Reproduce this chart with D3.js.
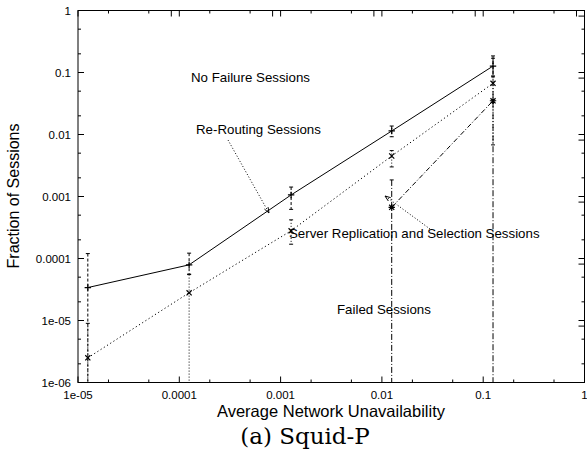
<!DOCTYPE html>
<html>
<head>
<meta charset="utf-8">
<script src="https://cdn.jsdelivr.net/npm/d3@7"></script>
<style>
  body { margin: 0; background: #fff; }
  svg { display: block; }
  text { font-family: 'Liberation Sans', Arial, sans-serif; fill: #000; }
</style>
</head>
<body>
<div id="chart"></div>
<script>
// tick values and labels
const xTicks = [1e-5, 1e-4, 1e-3, 1e-2, 1e-1, 1];
const xTickLabels = ['1e-05', '0.0001', '0.001', '0.01', '0.1', '1'];
const yTicks = [1e-6, 1e-5, 1e-4, 1e-3, 1e-2, 1e-1, 1];
const yTickLabels = ['1e-06', '1e-05', '0.0001', '0.001', '0.01', '0.1', '1'];

// series; null low = error bar runs off the bottom
const xVals = [1.25e-5, 1.25e-4, 1.27e-3, 1.25e-2, 0.125];
const noFailure = [3.4e-5, 7.9e-5, 1.06e-3, 0.0114, 0.127];
const noFailureLo = [null, 5.6e-5, 6.2e-4, 0.0092, 0.085];
const noFailureHi = [1.2e-4, 1.22e-4, 1.42e-3, 0.0137, 0.185];

const reRouting = [2.5e-6, 2.8e-5, 2.8e-4, 0.0045, 0.067];
const reRoutingLo = [null, null, 1.7e-4, 0.003, 0.0068];
const reRoutingHi = [9e-6, 5.5e-5, 4.2e-4, 0.0055, 0.088];

const serverX = [1.25e-2, 0.125];
const serverRepl = [6.7e-4, 0.035];
const serverLo = [null, null];
const serverHi = [1.85e-3, 0.17];

const width = 587;
const height = 452;
const plot = { left: 78, right: 584.5, top: 10.5, bottom: 382.5 };

const svg = d3.select('#chart').append('svg')
  .attr('width', width)
  .attr('height', height);

const x = d3.scaleLog().domain([1e-5, 1]).range([plot.left, plot.right]);
const y = d3.scaleLog().domain([1e-6, 1]).range([plot.bottom, plot.top]);

// minor ticks at 2 and 5 of each decade
function minors(domain) {
  const out = [];
  const lo = Math.round(Math.log10(domain[0]));
  const hi = Math.round(Math.log10(domain[1]));
  for (let e = lo; e < hi; e++) {
    out.push(2 * Math.pow(10, e), 5 * Math.pow(10, e));
  }
  return out;
}

const axes = svg.append('g').attr('stroke', '#000').attr('stroke-width', 1);

// frame
axes.append('rect')
  .attr('x', plot.left).attr('y', plot.top)
  .attr('width', plot.right - plot.left)
  .attr('height', plot.bottom - plot.top)
  .attr('fill', 'none');

const majorLen = 6;
const minorLen = 3;

// x ticks bottom + top
xTicks.forEach((t) => {
  axes.append('line').attr('x1', x(t)).attr('x2', x(t))
    .attr('y1', plot.bottom).attr('y2', plot.bottom - majorLen);
  axes.append('line').attr('x1', x(t)).attr('x2', x(t))
    .attr('y1', plot.top).attr('y2', plot.top + majorLen);
});
minors(x.domain()).forEach((t) => {
  axes.append('line').attr('x1', x(t)).attr('x2', x(t))
    .attr('y1', plot.bottom).attr('y2', plot.bottom - minorLen);
  axes.append('line').attr('x1', x(t)).attr('x2', x(t))
    .attr('y1', plot.top).attr('y2', plot.top + minorLen);
});
// extra top ticks (second axis) slightly left of the majors
xTicks.slice(1).forEach((t) => {
  axes.append('line').attr('x1', x(t) - 8).attr('x2', x(t) - 8)
    .attr('y1', plot.top).attr('y2', plot.top + majorLen);
});

// y ticks left + right
yTicks.forEach((t) => {
  axes.append('line').attr('y1', y(t)).attr('y2', y(t))
    .attr('x1', plot.left).attr('x2', plot.left + majorLen);
  axes.append('line').attr('y1', y(t)).attr('y2', y(t))
    .attr('x1', plot.right).attr('x2', plot.right - majorLen);
});
minors(y.domain()).forEach((t) => {
  axes.append('line').attr('y1', y(t)).attr('y2', y(t))
    .attr('x1', plot.left).attr('x2', plot.left + minorLen);
  axes.append('line').attr('y1', y(t)).attr('y2', y(t))
    .attr('x1', plot.right).attr('x2', plot.right - minorLen);
});
// extra right ticks (second axis) just below the majors
yTicks.slice(1).forEach((t) => {
  axes.append('line').attr('y1', y(t) + 5.6).attr('y2', y(t) + 5.6)
    .attr('x1', plot.right).attr('x2', plot.right - majorLen);
});

// tick labels
svg.append('g').selectAll('text').data(xTicks).join('text')
  .attr('x', (d) => x(d))
  .attr('y', plot.bottom + 16)
  .attr('text-anchor', 'middle')
  .attr('font-size', 11.5)
  .text((d, i) => xTickLabels[i]);

svg.append('g').selectAll('text').data(yTicks).join('text')
  .attr('x', plot.left - 7)
  .attr('y', (d) => y(d) + 4)
  .attr('text-anchor', 'end')
  .attr('font-size', 11.5)
  .text((d, i) => yTickLabels[i]);

// axis titles
svg.append('text')
  .attr('x', 331).attr('y', 417)
  .attr('text-anchor', 'middle')
  .attr('font-size', 16.5)
  .text('Average Network Unavailability');

svg.append('text')
  .attr('transform', `translate(19, ${196}) rotate(-90)`)
  .attr('text-anchor', 'middle')
  .attr('font-size', 16)
  .text('Fraction of Sessions');

svg.append('text')
  .attr('x', 305).attr('y', 444)
  .attr('text-anchor', 'middle')
  .attr('font-size', 23)
  .style('font-family', "'DejaVu Serif', 'Liberation Serif', serif")
  .style('font-weight', 300)
  .text('(a) Squid-P');

// clipped data layer
svg.append('clipPath').attr('id', 'clip')
  .append('rect')
  .attr('x', plot.left).attr('y', plot.top)
  .attr('width', plot.right - plot.left)
  .attr('height', plot.bottom - plot.top);

const dataG = svg.append('g').attr('clip-path', 'url(#clip)')
  .attr('fill', 'none').attr('stroke', '#000').attr('stroke-width', 1);

const line = d3.line().x((d) => x(d[0])).y((d) => y(d[1]));

function errorBars(xs, lo, hi, dash) {
  const g = dataG.append('g').attr('stroke-dasharray', dash);
  xs.forEach((xv, i) => {
    const px = x(xv);
    const yTop = y(hi[i]);
    const yBot = lo[i] == null ? plot.bottom + 5 : y(lo[i]);
    g.append('line').attr('x1', px).attr('x2', px).attr('y1', yTop).attr('y2', yBot);
    dataG.append('line').attr('x1', px - 2).attr('x2', px + 2).attr('y1', yTop).attr('y2', yTop);
    if (lo[i] != null) {
      dataG.append('line').attr('x1', px - 2).attr('x2', px + 2).attr('y1', yBot).attr('y2', yBot);
    }
  });
}

function markers(xs, ys, kind) {
  const s = 3.2;
  xs.forEach((xv, i) => {
    const px = x(xv);
    const py = y(ys[i]);
    let p = '';
    if (kind === '+' || kind === '*') {
      p += `M${px - s},${py}H${px + s}M${px},${py - s}V${py + s}`;
    }
    if (kind === 'x' || kind === '*') {
      p += `M${px - s * 0.8},${py - s * 0.8}L${px + s * 0.8},${py + s * 0.8}` +
           `M${px - s * 0.8},${py + s * 0.8}L${px + s * 0.8},${py - s * 0.8}`;
    }
    dataG.append('path').attr('d', p).attr('stroke-width', 1.2);
  });
}

// error bars
errorBars(xVals, noFailureLo, noFailureHi, '3,2');
errorBars(xVals, reRoutingLo, reRoutingHi, '1,2');
errorBars(serverX, serverLo, serverHi, '6,2,1,2');

// lines
dataG.append('path')
  .attr('d', line(xVals.map((v, i) => [v, noFailure[i]])));
dataG.append('path')
  .attr('stroke-dasharray', '1.2,2.6')
  .attr('d', line(xVals.map((v, i) => [v, reRouting[i]])));
dataG.append('path')
  .attr('stroke-dasharray', '5,2,1,2')
  .attr('d', line(serverX.map((v, i) => [v, serverRepl[i]])));

markers(xVals, noFailure, '+');
markers(xVals, reRouting, 'x');
markers(serverX, serverRepl, '*');

// labels and pointer arrows
const labels = svg.append('g').attr('font-size', 13.3);
labels.append('text').attr('x', 191).attr('y', 82).text('No Failure Sessions');
labels.append('text').attr('x', 196).attr('y', 134).text('Re-Routing Sessions');
labels.append('text').attr('x', 289).attr('y', 238).text('Server Replication and Selection Sessions');
labels.append('text').attr('x', 337).attr('y', 314).text('Failed Sessions');

function arrow(x1, y1, x2, y2) {
  const g = svg.append('g').attr('stroke', '#000').attr('fill', 'none');
  g.append('line')
    .attr('x1', x1).attr('y1', y1).attr('x2', x2).attr('y2', y2)
    .attr('stroke-dasharray', '1,2');
  const a = Math.atan2(y2 - y1, x2 - x1);
  const len = 6;
  const spread = 0.35;
  const p = `M${x2 - len * Math.cos(a - spread)},${y2 - len * Math.sin(a - spread)}` +
            `L${x2},${y2}` +
            `L${x2 - len * Math.cos(a + spread)},${y2 - len * Math.sin(a + spread)}`;
  g.append('path').attr('d', p).attr('stroke-width', 1);
}

arrow(228, 140, 269, 213);
arrow(430, 229, 385, 196);
</script>
</body>
</html>
